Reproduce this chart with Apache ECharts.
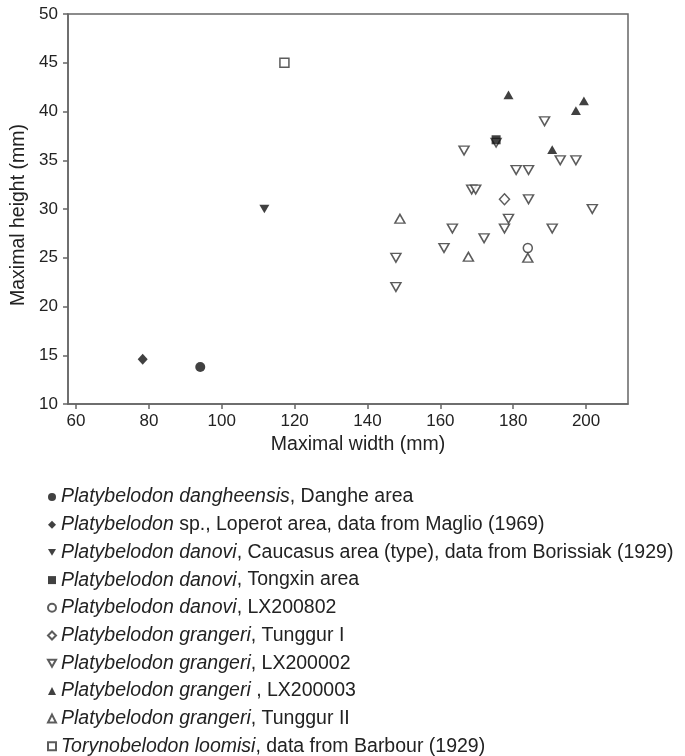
<!DOCTYPE html>
<html>
<head>
<meta charset="utf-8">
<script src="https://cdn.jsdelivr.net/npm/echarts@6/dist/echarts.min.js"></script>
<style>
  html, body { margin: 0; padding: 0; background: #fff; }
  #main { width: 685px; height: 756px; }
</style>
</head>
<body>
<div id="main"></div>
<script>
// tick labels
var xTicks = [60, 80, 100, 120, 140, 160, 180, 200];
var yTicks = [10, 15, 20, 25, 30, 35, 40, 45, 50];

// legend text: italic part + plain part
var taxa = [
  "Platybelodon dangheensis",
  "Platybelodon",
  "Platybelodon danovi",
  "Platybelodon danovi",
  "Platybelodon danovi",
  "Platybelodon grangeri",
  "Platybelodon grangeri",
  "Platybelodon grangeri ",
  "Platybelodon grangeri",
  "Torynobelodon loomisi"
];
var sources = [
  ", Danghe area",
  " sp., Loperot area, data from Maglio (1969)",
  ", Caucasus area (type), data from Borissiak (1929)",
  ", Tongxin area",
  ", LX200802",
  ", Tunggur I",
  ", LX200002",
  ", LX200003",
  ", Tunggur II",
  ", data from Barbour (1929)"
];

// [width, height] in mm
var dangheData = [[94.1, 13.8]];
var loperotData = [[78.3, 14.6]];
var caucasusData = [[111.7, 30.0]];
var tongxinData = [[175.3, 37.1]];
var lx200802Data = [[184.0, 26.0]];
var tunggur1Data = [[177.6, 31.0]];
var lx200002Data = [
  [175.3, 36.8], [188.6, 39.0], [166.5, 36.0], [192.9, 35.0], [197.2, 35.0],
  [180.8, 34.0], [184.2, 34.0], [168.6, 32.0], [169.7, 32.0], [184.2, 31.0],
  [201.7, 30.0], [178.7, 29.0], [177.6, 28.0], [190.7, 28.0], [163.3, 28.0],
  [172.0, 27.0], [161.0, 26.0], [147.8, 25.0], [147.8, 22.0]
];
var lx200003Data = [[178.7, 41.7], [199.4, 41.1], [197.2, 40.1], [190.7, 36.1]];
var tunggur2Data = [[148.9, 29.0], [184.0, 25.0], [167.7, 25.1]];
var torynoData = [[117.2, 45.0]];

var downTri = "path://M0,0L10,0L5,8.66Z";
var FONT = "Liberation Sans";

var chart = echarts.init(document.getElementById("main"));

function seriesName(i) {
  return taxa[i] + sources[i];
}

// 实心 / 空心 点样式
function solid(i, data, symbol, size) {
  return {
    name: seriesName(i), type: "scatter", data: data,
    symbol: symbol, symbolSize: size,
    itemStyle: { color: "#111" },
    z: 3
  };
}
function hollow(i, data, symbol, size) {
  return {
    name: seriesName(i), type: "scatter", data: data,
    symbol: symbol, symbolSize: size,
    itemStyle: { color: "#fff", borderColor: "#333", borderWidth: 1.5 },
    z: 2
  };
}

var series = [
  solid(0, dangheData, "circle", 10),
  solid(1, loperotData, "diamond", [10, 11]),
  solid(2, caucasusData, downTri, [10, 8.7]),
  solid(3, tongxinData, "rect", 9),
  hollow(4, lx200802Data, "circle", 9),
  hollow(5, tunggur1Data, "diamond", [10, 11]),
  hollow(6, lx200002Data, downTri, [10, 8.7]),
  solid(7, lx200003Data, "triangle", [10, 8.7]),
  hollow(8, tunggur2Data, "triangle", [10, 8.7]),
  hollow(9, torynoData, "rect", 9)
];
series[3].z = 4;

chart.setOption({
  animation: false,
  backgroundColor: "#fff",
  grid: {
    left: 68, top: 14, right: 57, bottom: 352,
    show: true, borderColor: "#666", borderWidth: 1.5
  },
  xAxis: {
    type: "value",
    min: 57.8,
    max: 211.5,
    name: "Maximal width (mm)",
    nameLocation: "middle",
    nameGap: 27,
    nameTextStyle: { fontFamily: FONT, fontSize: 19.5, color: "#222", padding: [0, 0, 0, 20] },
    splitLine: { show: false },
    axisLine: { lineStyle: { color: "#666", width: 1.5 } },
    axisTick: { inside: false, length: 5, customValues: xTicks, lineStyle: { color: "#666", width: 1.5 } },
    axisLabel: { customValues: xTicks, fontFamily: FONT, fontSize: 17, color: "#222", margin: 9 }
  },
  yAxis: {
    type: "value",
    min: 10,
    max: 50,
    interval: 5,
    name: "Maximal height (mm)",
    nameLocation: "middle",
    nameGap: 36,
    nameTextStyle: { fontFamily: FONT, fontSize: 19.5, color: "#222", padding: [0, 12, 0, 0] },
    splitLine: { show: false },
    axisLine: { lineStyle: { color: "#666", width: 1.5 } },
    axisTick: { inside: false, length: 5, lineStyle: { color: "#666", width: 1.5 } },
    axisLabel: {
      fontFamily: FONT, fontSize: 17, color: "#222", margin: 10,
      formatter: function (v) { return yTicks.indexOf(v) >= 0 ? String(v) : ""; }
    }
  },
  legend: {
    orient: "vertical",
    left: 47,
    top: 487,
    height: 285,
    padding: 0,
    itemWidth: 8,
    itemHeight: 8,
    itemGap: 7.7,
    selectedMode: false,
    data: series.map(function (s) { return s.name; }),
    formatter: function (name) {
      for (var i = 0; i < taxa.length; i++) {
        if (seriesName(i) === name) {
          return "{i|" + taxa[i] + "}{n|" + sources[i] + "}";
        }
      }
      return name;
    },
    textStyle: {
      fontFamily: FONT, fontSize: 19.5, color: "#222",
      rich: {
        i: { fontFamily: FONT, fontSize: 19.5, fontStyle: "italic", color: "#222", lineHeight: 20 },
        n: { fontFamily: FONT, fontSize: 19.5, color: "#222", lineHeight: 20 }
      }
    }
  },
  series: series
});
</script>
</body>
</html>
